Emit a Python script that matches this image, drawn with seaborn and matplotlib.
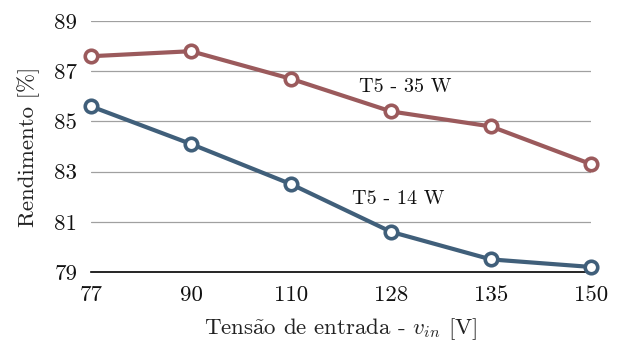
import matplotlib
matplotlib.use("Agg")
import matplotlib.pyplot as plt
import seaborn as sns
import pandas as pd
import numpy as np

voltages = ["77", "90", "110", "128", "135", "150"]
eff_35w = [87.6, 87.8, 86.7, 85.4, 84.8, 83.3]
eff_14w = [85.6, 84.1, 82.5, 80.6, 79.5, 79.2]
series_names = ["T5 - 35 W", "T5 - 14 W"]
yticks = [79, 81, 83, 85, 87, 89]

sns.set_theme(style="white")
plt.rcParams['font.family'] = ['cmr10', 'DejaVu Serif']
plt.rcParams['mathtext.fontset'] = 'cm'
plt.rcParams['axes.formatter.use_mathtext'] = True

pos = np.arange(len(voltages))
df = pd.concat([
    pd.DataFrame({"pos": pos, "eff": eff_35w, "serie": series_names[0]}),
    pd.DataFrame({"pos": pos, "eff": eff_14w, "serie": series_names[1]}),
])

fig = plt.figure(figsize=(6.24, 3.46), dpi=100)
ax = fig.add_axes([0.146, 0.214, 0.801, 0.725])

palette = {series_names[0]: "#9B5A5C", series_names[1]: "#405F7A"}
sns.lineplot(data=df, x="pos", y="eff", hue="serie", palette=palette, ax=ax,
             linewidth=3.0, marker="o", markersize=9, markerfacecolor="white",
             markeredgewidth=2.6, legend=False, zorder=5)
for line in ax.lines:
    line.set_clip_on(False)
    line.set_markeredgecolor(line.get_color())

for y in yticks[1:]:
    ax.axhline(y, color="#A0A0A0", linewidth=0.9, zorder=1)

ax.set_xlim(pos[0], pos[-1])
ax.set_ylim(yticks[0], yticks[-1])
ax.set_xticks(pos)
ax.set_xticklabels(voltages)
ax.set_yticks(yticks)
ax.set_yticklabels([str(v) for v in yticks])
ax.tick_params(axis="both", length=0, labelsize=16.5, colors="#111111")
ax.tick_params(axis="x", pad=10)
ax.tick_params(axis="y", pad=10)

for s in ["top", "right", "left"]:
    ax.spines[s].set_visible(False)
ax.spines["bottom"].set_color("black")
ax.spines["bottom"].set_linewidth(1.2)

ax.set_xlabel(r"Tens$\tilde{\rm a}$o de entrada - $v_{in}$ [V]", fontsize=16.5, labelpad=8, color="#222222")
ax.set_ylabel("Rendimento [%]", fontsize=16.5, labelpad=10, color="#222222")

ax.text(3.14, 86.37, series_names[0], fontsize=14.5, ha="center", va="center", color="#111111")
ax.text(3.07, 81.9, series_names[1], fontsize=14.5, ha="center", va="center", color="#111111")

fig.savefig("out.png", dpi=100)
